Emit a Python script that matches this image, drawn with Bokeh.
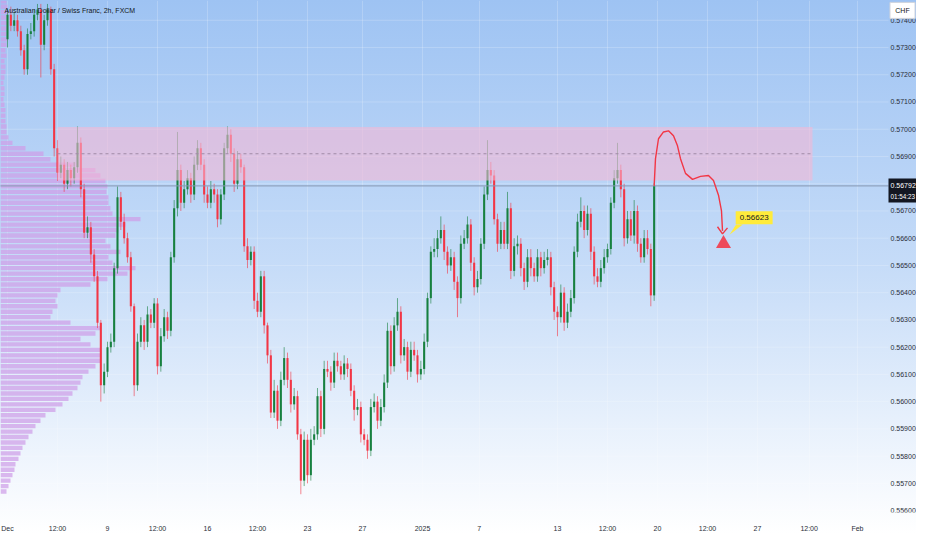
from bokeh.plotting import figure
from bokeh.models import Range1d, FixedTicker, Label
from bokeh.core.properties import value
from bokeh.embed import file_html
from bokeh.resources import INLINE

# ---------------- data ----------------
first_open = 0.5733
closes = [
    0.5742, 0.5738, 0.5740, 0.5736, 0.5729, 0.5722, 0.5735, 0.5736, 0.5742, 0.5744,
    0.5731, 0.5740, 0.5744, 0.5722, 0.5693, 0.5684, 0.5687, 0.5680, 0.5685, 0.5682,
    0.5686, 0.5695, 0.5678, 0.5662, 0.5664, 0.5654, 0.5646, 0.5629, 0.5606, 0.5611,
    0.5620, 0.5622, 0.5649, 0.5675, 0.5666, 0.5660, 0.5653, 0.5635, 0.5606, 0.5622,
    0.5628, 0.5622, 0.5632, 0.5629, 0.5636, 0.5613, 0.5624, 0.5631, 0.5626, 0.5653,
    0.5671, 0.5685, 0.5673, 0.5678, 0.5682, 0.5676, 0.5687, 0.5693, 0.5687, 0.5676,
    0.5673, 0.5678, 0.5676, 0.5667, 0.5676, 0.5693, 0.5698, 0.5691, 0.5680, 0.5689,
    0.5686, 0.5657, 0.5652, 0.5655, 0.5637, 0.5633, 0.5646, 0.5628, 0.5617, 0.5596,
    0.5604, 0.5593, 0.5608, 0.5616, 0.5608, 0.5599, 0.5602, 0.5588, 0.5571, 0.5586,
    0.5573, 0.5586, 0.5588, 0.5602, 0.5590, 0.5612, 0.5611, 0.5607, 0.5615, 0.5613,
    0.5610, 0.5614, 0.5612, 0.5604, 0.5597, 0.5598, 0.5588, 0.5586, 0.5582, 0.5598,
    0.5600, 0.5593, 0.5598, 0.5607, 0.5626, 0.5613, 0.5628, 0.5633, 0.5617, 0.5620,
    0.5611, 0.5619, 0.5617, 0.5610, 0.5612, 0.5622, 0.5638, 0.5655, 0.5656, 0.5660,
    0.5663, 0.5655, 0.5650, 0.5653, 0.5644, 0.5638, 0.5658, 0.5660, 0.5665, 0.5651,
    0.5642, 0.5645, 0.5658, 0.5676, 0.5685, 0.5683, 0.5667, 0.5658, 0.5663, 0.5658,
    0.5671, 0.5648, 0.5657, 0.5658, 0.5649, 0.5644, 0.5653, 0.5649, 0.5646, 0.5653,
    0.5649, 0.5652, 0.5653, 0.5642, 0.5633, 0.5631, 0.5640, 0.5629, 0.5633, 0.5638,
    0.5655, 0.5666, 0.5670, 0.5663, 0.5669, 0.5655, 0.5646, 0.5644, 0.5649, 0.5653,
    0.5656, 0.5673, 0.5682, 0.5685, 0.5678, 0.5660, 0.5667, 0.5661, 0.5670, 0.5658,
    0.5653, 0.5660, 0.5656, 0.5639, 0.56792,
]
wick_up_pips = [
    2, 3, 3, 2, 2, 2, 2, 3, 2, 2,
    2, 2, 2, 1, 2, 3, 3, 2, 3, 2,
    2, 6, 2, 2, 4, 2, 2, 2, 1, 3,
    2, 3, 2, 4, 2, 3, 2, 2, 1, 3,
    3, 2, 3, 2, 2, 2, 3, 3, 2, 2,
    3, 14, 2, 3, 3, 2, 3, 3, 2, 2,
    3, 3, 2, 2, 2, 2, 3, 2, 2, 3,
    2, 1, 3, 2, 2, 3, 2, 2, 1, 2,
    4, 2, 3, 4, 2, 3, 3, 2, 2, 3,
    2, 4, 3, 3, 2, 3, 3, 2, 3, 3,
    2, 3, 2, 2, 2, 3, 2, 2, 2, 3,
    3, 2, 3, 3, 3, 2, 3, 5, 2, 3,
    2, 3, 3, 2, 3, 3, 2, 2, 4, 3,
    5, 2, 2, 3, 2, 2, 3, 3, 3, 2,
    2, 3, 2, 3, 11, 3, 2, 2, 3, 3,
    6, 2, 3, 3, 2, 2, 3, 3, 2, 3,
    2, 3, 3, 2, 2, 2, 3, 2, 3, 3,
    2, 3, 5, 2, 3, 2, 2, 3, 3, 3,
    2, 2, 3, 10, 2, 2, 3, 3, 4, 2,
    2, 3, 3, 2, 1,
]
wick_dn_pips = [
    3, 2, 2, 2, 2, 2, 2, 2, 2, 2,
    12, 2, 2, 2, 3, 3, 2, 3, 2, 3,
    2, 2, 3, 2, 2, 3, 2, 2, 6, 3,
    2, 2, 2, 2, 3, 2, 2, 2, 4, 2,
    2, 3, 2, 2, 2, 3, 2, 2, 3, 2,
    2, 3, 3, 2, 2, 3, 2, 2, 2, 3,
    2, 2, 3, 3, 2, 2, 2, 3, 3, 2,
    2, 2, 3, 2, 3, 2, 2, 3, 3, 2,
    2, 3, 2, 2, 3, 3, 2, 2, 5, 2,
    3, 2, 2, 2, 3, 2, 2, 3, 2, 2,
    2, 2, 3, 2, 4, 2, 3, 2, 3, 2,
    2, 3, 2, 2, 2, 3, 2, 2, 3, 2,
    3, 2, 2, 3, 2, 2, 2, 2, 2, 3,
    2, 3, 3, 2, 3, 7, 2, 2, 2, 3,
    3, 2, 2, 2, 2, 3, 2, 3, 2, 2,
    2, 3, 2, 3, 3, 3, 2, 3, 2, 2,
    3, 2, 2, 3, 3, 7, 2, 3, 2, 2,
    2, 2, 2, 3, 2, 3, 3, 2, 2, 2,
    2, 2, 2, 2, 3, 3, 2, 2, 3, 3,
    2, 2, 2, 4, 2,
]

# volume profile (relative volume per price row, top row first)
profile_top_price = 0.5747
profile_step = 0.0002
profile_vol = [
    6, 7, 8, 6, 7, 8, 6, 7, 6, 5,
    6, 4, 5, 5, 4, 3, 4, 4, 3, 4,
    5, 5, 5, 6, 6, 8, 12, 25, 43, 50,
    75, 95, 100, 105, 107, 106, 108, 108, 110, 112,
    140, 125, 118, 115, 105, 110, 120, 108, 112, 135,
    127, 107, 90, 60, 57, 55, 57, 52, 50, 70,
    100, 95, 80, 90, 100, 100, 100, 95, 88, 82,
    80, 77, 72, 68, 62, 55, 45, 40, 35, 32,
    28, 25, 22, 20, 18, 15, 14, 12, 10, 8,
    6,
]

# time axis: positions in bar units and their labels
x_tick_pos = [0, 15, 30, 45, 60, 75, 90, 106.5, 124.5, 141.5, 165, 180, 195, 210, 225, 240.5, 255]
x_tick_labels = ["Dec", "12:00", "9", "12:00", "16", "12:00", "23", "27", "2025",
                 "7", "13", "12:00", "20", "12:00", "27", "12:00", "Feb"]
# price scale
y_ticks = [0.556, 0.557, 0.558, 0.559, 0.560, 0.561, 0.562, 0.563, 0.564, 0.565,
           0.566, 0.567, 0.568, 0.569, 0.570, 0.571, 0.572, 0.573, 0.574]
last_price_text = "0.56792"
countdown_text = "01:54:23"
currency_text = "CHF"

# drawings on the chart
zone_left, zone_right = 15.0, 241.5
zone_top, zone_bottom = 0.57008, 0.56812
path_x = [194.0, 194.4, 195.3, 196.8, 198.3, 199.8, 201.0, 201.9, 203.4, 205.5,
          207.9, 210.3, 211.8, 213.3, 214.2, 214.5]
path_y = [0.56792, 0.56892, 0.56965, 0.56990, 0.56994, 0.56976, 0.56939, 0.56892,
          0.56838, 0.56816, 0.56827, 0.56830, 0.56812, 0.56758, 0.56700, 0.56627]
arrow_x = [213.0, 214.5, 216.0]
arrow_y = [0.56642, 0.56616, 0.56638]
target_x, target_y = 214.8, 0.56580
target_label = "0.56623"
target_label_x, target_label_y = 224.0, 0.56675
tail_x = [218.6, 220.6, 216.6]
tail_y = [0.56650, 0.56650, 0.56613]

# ---------------- derived ----------------
n = len(closes)
bars = list(range(n))
opens = [first_open] + closes[:-1]
body_top = [max(o, c) for o, c in zip(opens, closes)]
body_bot = [min(o, c) for o, c in zip(opens, closes)]
highs = [t + u * 0.0001 for t, u in zip(body_top, wick_up_pips)]
lows = [b - d * 0.0001 for b, d in zip(body_bot, wick_dn_pips)]
GREEN, RED = "#17803f", "#f23645"
colors = [GREEN if c >= o else RED for o, c in zip(opens, closes)]

profile_price = [profile_top_price - profile_step * i for i in range(len(profile_vol))]
px_per_bar = 3.3333
x0 = -2.1
profile_right = [x0 + v / px_per_bar for v in profile_vol]

def sx(px):
    """bar coordinate of a horizontal pixel offset inside the frame"""
    return x0 + px / px_per_bar

# ---------------- figure ----------------
FRAME_W = 916
SCALE_X = 888  # where the price scale begins
p = figure(width=916, height=534, output_backend="svg", toolbar_location=None,
           x_range=Range1d(x0, sx(FRAME_W)),
           y_range=Range1d(0.555930, 0.574726),
           y_axis_location=None,
           min_border_left=0, min_border_top=0, min_border_right=0, min_border_bottom=16)
p.background_fill_color = None
p.border_fill_color = None
p.outline_line_color = None
p.styles = {"background": "linear-gradient(180deg, #9ec3f3 0%, #c6dcf8 50%, #ffffff 100%)"}

# time axis
p.xaxis.ticker = FixedTicker(ticks=x_tick_pos)
p.xaxis.major_label_overrides = {pos: lab for pos, lab in zip(x_tick_pos, x_tick_labels)}
ax = p.xaxis[0]
ax.major_tick_line_color = None
ax.minor_tick_line_color = None
ax.axis_line_color = None
ax.major_label_text_font = "Liberation Sans"
ax.major_label_text_font_size = "7px"
ax.major_label_text_color = "#2a2e39"
ax.major_label_standoff = 6
p.xgrid.grid_line_color = "#ffffff"
p.xgrid.grid_line_alpha = 0.2
p.ygrid.grid_line_color = None

# horizontal grid lines at price levels (stop at the price scale)
p.segment(x0=[x0 - 1] * len(y_ticks), x1=[sx(SCALE_X)] * len(y_ticks), y0=y_ticks, y1=y_ticks,
          line_color="#ffffff", line_alpha=0.2, line_width=1)

# volume profile
p.hbar(y=profile_price, left=x0 - 1, right=profile_right, height=0.00016,
       fill_color="#cf9ee8", fill_alpha=0.72, line_color=None)

# candles
p.segment(x0=bars, x1=bars, y0=lows, y1=highs, line_color=colors, line_alpha=0.6, line_width=1)
p.vbar(x=bars, width=0.62, top=body_top, bottom=body_bot, fill_color=colors, line_color=None)

# supply zone
p.quad(left=zone_left, right=zone_right, top=zone_top, bottom=zone_bottom,
       fill_color="#f6b6d4", fill_alpha=0.58, line_color=None)
zone_mid = (zone_top + zone_bottom) / 2
p.segment(x0=[zone_left], x1=[zone_right], y0=[zone_mid], y1=[zone_mid],
          line_color="#a08aa6", line_dash="3 3", line_width=1)

# last price line
p.segment(x0=[x0 - 1], x1=[sx(SCALE_X)], y0=[closes[-1]], y1=[closes[-1]],
          line_color="#8597b2", line_width=1)

# projection path
p.line(path_x, path_y, line_color="#f23645", line_width=1.4)
p.line(arrow_x, arrow_y, line_color="#f23645", line_width=1.4)
p.scatter([target_x], [target_y], marker="triangle", size=15, fill_color="#ee4a5b", line_color=None)
p.patch(tail_x, tail_y, fill_color="#ffeb3b", line_color=None)
p.add_layout(Label(x=target_label_x, y=target_label_y, text=target_label,
                   text_align="center", text_baseline="middle",
                   text_font="Liberation Sans", text_font_size="8px", text_color="#131722",
                   background_fill_color="#ffeb3b", padding=4))

# title
p.add_layout(Label(x=sx(4), y=0.574363, text="Australian Dollar / Swiss Franc, 2h, FXCM",
                   text_baseline="middle", text_font="Liberation Sans Narrow, Liberation Sans",
                   text_font_size="7px", text_color="#131722"))

# price scale labels
font = value("Liberation Sans")
p.text(x=[sx(SCALE_X + 2)] * len(y_ticks), y=y_ticks, text=["%.5f" % t for t in y_ticks],
       text_font=font, text_font_size="7px", text_color="#2a2e39",
       text_baseline="middle", text_align="left")

# last price box on the scale
p.rect(x=[sx((SCALE_X + FRAME_W) / 2)], y=[closes[-1] - 0.00017], width=FRAME_W - SCALE_X, height=24,
       width_units="screen", height_units="screen", fill_color="#131722", line_color=None)
p.text(x=[sx(SCALE_X + 2)], y=[closes[-1]], text=[last_price_text], text_font=font,
       text_font_size="7px", text_color="#ffffff", text_baseline="middle", text_align="left")
p.text(x=[sx(SCALE_X + 2)], y=[closes[-1] - 0.00038], text=[countdown_text], text_font=font,
       text_font_size="6.3px", text_color="#ffffff", text_baseline="middle", text_align="left")

# currency box
p.rect(x=[sx(SCALE_X + 14)], y=[0.574363], width=25, height=16,
       width_units="screen", height_units="screen",
       fill_color="#ffffff", line_color="#d1d4dc", line_width=1)
p.text(x=[sx(SCALE_X + 14)], y=[0.574363], text=[currency_text], text_font=font,
       text_font_size="7px", text_color="#131722", text_baseline="middle", text_align="center")

open("out.html", "w").write(file_html(p, INLINE))
